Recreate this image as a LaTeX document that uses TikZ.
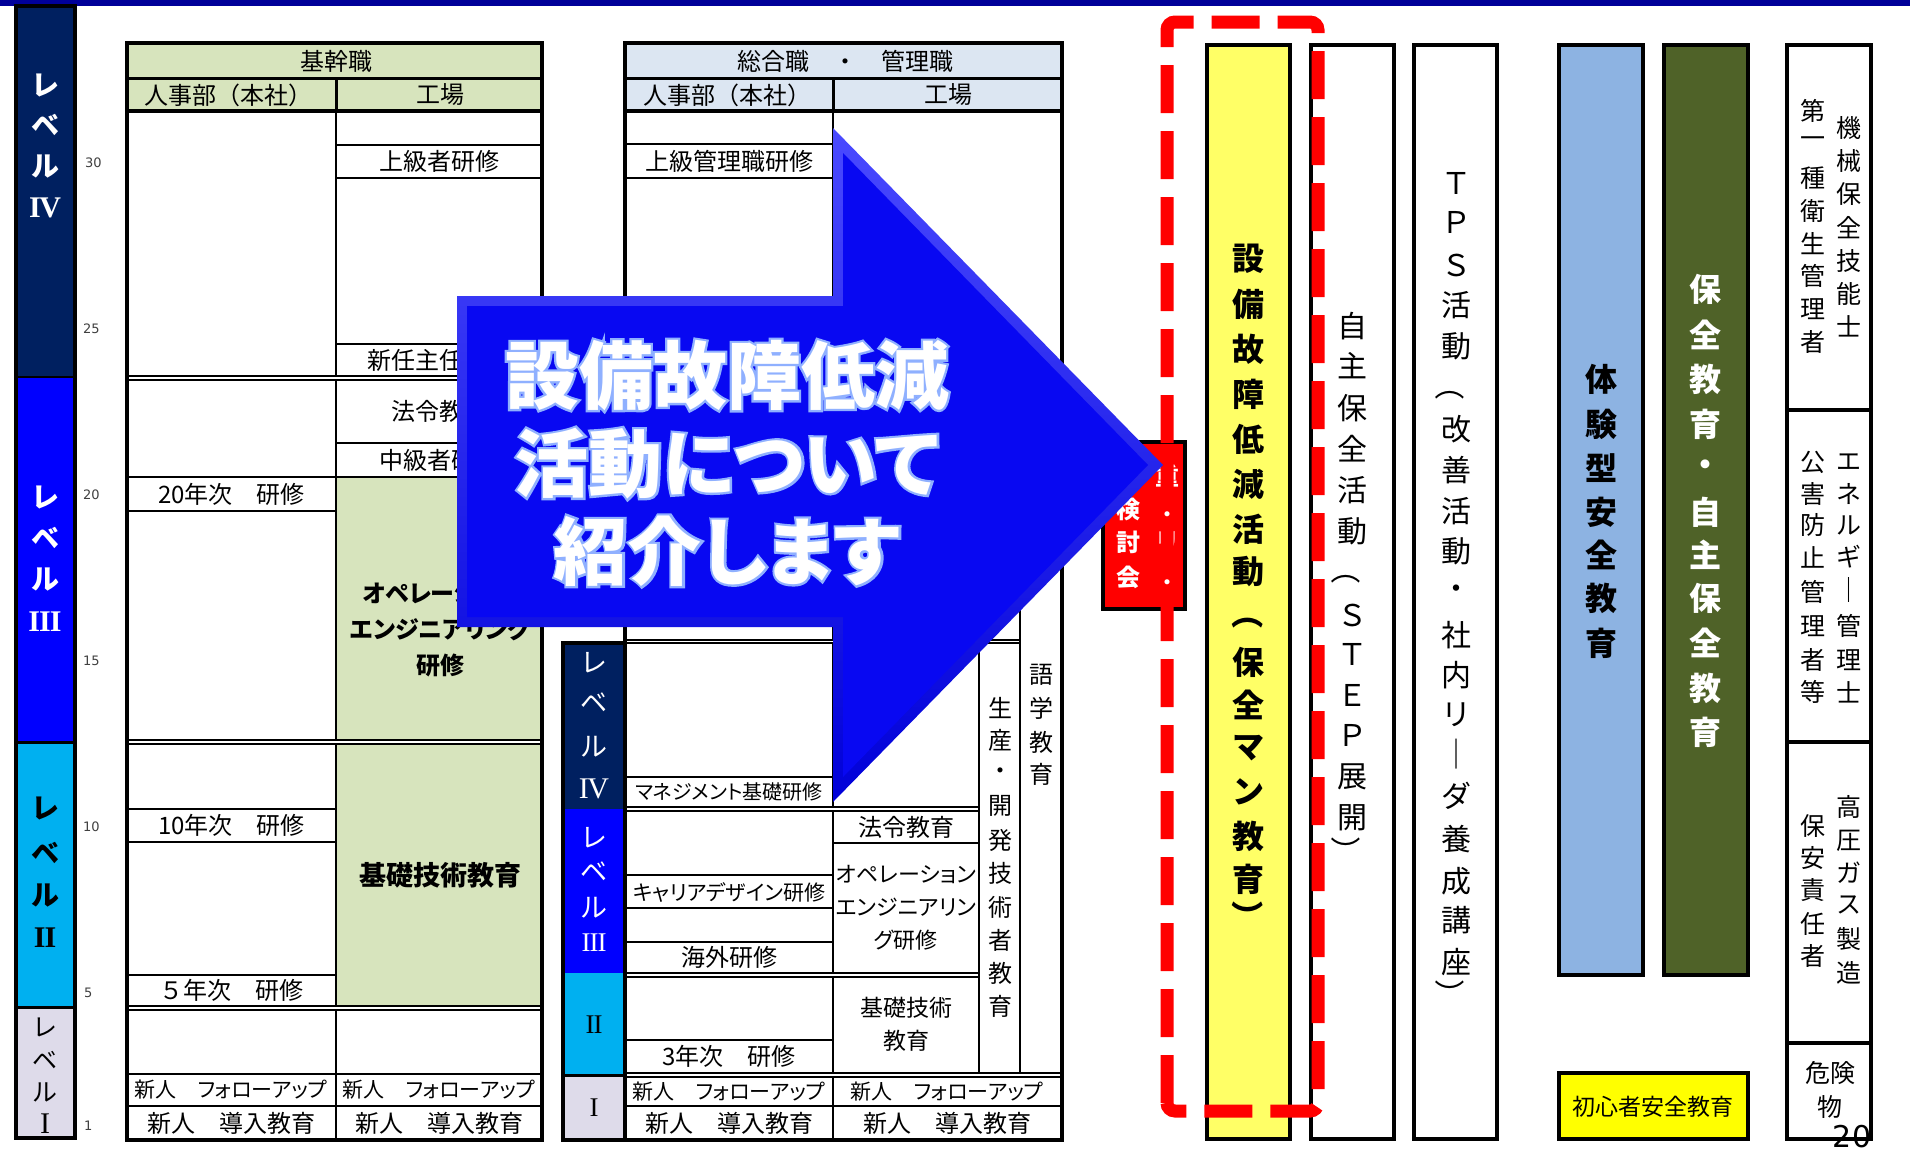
\documentclass[tikz,border=0pt]{standalone}
\usepackage{fontspec}
\setmainfont{Noto Sans CJK JP}
\newfontfamily\pfont[RawFeature=+palt]{Noto Sans CJK JP}
\newfontfamily\glowfont[RawFeature=+palt, BoldFeatures={FakeBold=6}]{Noto Sans CJK JP}
\newfontfamily\numfont{DejaVu Sans}
\newfontfamily\romfont{Liberation Serif}
\definecolor{topbar}{HTML}{000099}
\definecolor{navy}{HTML}{002060}
\definecolor{lvblue}{HTML}{0000FF}
\definecolor{lvcyan}{HTML}{00B0F0}
\definecolor{lvlav}{HTML}{DEDBEA}
\definecolor{hdrgreen}{HTML}{D7E4BD}
\definecolor{hdrblue}{HTML}{DCE6F2}
\definecolor{ylw}{HTML}{FFFF66}
\definecolor{ltblue}{HTML}{8DB3E2}
\definecolor{olive}{HTML}{4F6228}
\definecolor{ylw2}{HTML}{FFFF00}
\definecolor{arrowblue}{HTML}{0808F2}
\definecolor{arrowtop}{HTML}{4A4AFF}
\definecolor{arrowbot}{HTML}{0000D8}
\definecolor{glow}{HTML}{8FB0FF}
\definecolor{redd}{HTML}{FF0000}
\tikzset{
  cl/.style={draw=black, line width=2.5pt},
  txt/.style={inner sep=0pt, align=center, font=\fontsize{24}{33}\selectfont},
  ptxt/.style={inner sep=0pt, align=center, font=\pfont\fontsize{21}{33}\selectfont},
  vch/.style={inner sep=0pt, font=\fontsize{24}{24}\selectfont},
  num/.style={anchor=west, inner sep=0pt, text=black!75, font=\numfont\fontsize{13}{13}\selectfont},
  boxline/.style={draw=black, line width=4pt},
  romb/.style={inner sep=0pt, font=\romfont\bfseries\fontsize{30}{30}\selectfont},
  romn/.style={inner sep=0pt, font=\romfont\fontsize{30}{30}\selectfont},
}
\newcommand\cellbox[7]{%
  \filldraw[cl, fill=#6] (#2,#3) rectangle (#4,#5);
  \node[txt] (#1) at ({(#2+#4)/2},{(#3+#5)/2}) {#7};}
\newcommand\vstack[4][]{%
  \foreach \c/\yy [count=\k] in {#4} {\node[vch,#1] (#2-\k) at (#3,\yy) {\c};}}
% vertical parenthesis: rotated full-width bracket
\newcommand\vparen[5][]{\node[vch,#1,rotate=-90] (#2) at (#3,#4) {\pfont #5};}
\begin{document}
\begin{tikzpicture}[x=1pt,y=-1pt]
\useasboundingbox (0,0) rectangle (1910,1152);
\fill[white] (0,0) rectangle (1910,1152);
\fill[topbar] (0,0) rectangle (1910,6);

% ---------- left level column ----------
\fill[navy] (16,6) rectangle (75,377);
\fill[lvblue] (16,377) rectangle (75,742);
\fill[lvcyan] (16,742) rectangle (75,1007);
\fill[lvlav] (16,1007) rectangle (75,1138);
\draw[line width=2pt] (16,377) -- (75,377);
\draw[line width=3pt] (16,742) -- (75,742);
\draw[line width=3pt] (16,1007) -- (75,1007);
\draw[line width=4pt] (16,6) rectangle (75,1138);
\vstack[text=white,font=\bfseries\fontsize{28}{28}\selectfont]{lvIV}{45}{レ/85,ベ/125,ル/167}
\node[romb, text=white] (lvIVr) at (45,208) {I\kern-1.5pt V};
\vstack[text=white,font=\bfseries\fontsize{28}{28}\selectfont]{lvIII}{45}{レ/497,ベ/538,ル/580}
\node[romb, text=white] (lvIIIr) at (45,622) {I\kern-1pt I\kern-1pt I};
\vstack[font=\bfseries\fontsize{28}{28}\selectfont]{lvII}{45}{レ/808,ベ/853,ル/896}
\node[romb] (lvIIr) at (45,938) {I\kern-1pt I};
\vstack[font=\fontsize{25}{25}\selectfont]{lvI}{45}{レ/1027,ベ/1060,ル/1092}
\node[romn] (lvIr) at (45,1124) {I};

% numbers
\node[num] (n30) at (85,163) {30};
\node[num] (n25) at (83,329) {25};
\node[num] (n20) at (83,495) {20};
\node[num] (n15) at (83,661) {15};
\node[num] (n10) at (83,827) {10};
\node[num] (n5) at (84,993) {5};
\node[num] (n1) at (84,1126) {1};

% ---------- table 1 ----------
\filldraw[fill=hdrgreen, draw=black, line width=3pt] (127,43) rectangle (542,78);
\filldraw[fill=hdrgreen, draw=black, line width=3pt] (127,78) rectangle (336,111);
\filldraw[fill=hdrgreen, draw=black, line width=3pt] (336,78) rectangle (542,111);
\node[txt] (h1) at (336,61) {基幹職};
\node[txt] (h1a) at (228,95) {人事部（本社）};
\node[txt] (h1b) at (440,95) {工場};

\cellbox{t1a}{127}{111}{336}{376}{white}{}
\cellbox{t1b}{127}{380}{336}{477}{white}{}
\cellbox{t1c}{127}{477}{336}{511}{white}{20年次　研修}
\cellbox{t1d}{127}{511}{336}{740}{white}{}
\cellbox{t1e}{127}{744}{336}{809}{white}{}
\cellbox{t1f}{127}{809}{336}{842}{white}{10年次　研修}
\cellbox{t1g}{127}{842}{336}{975}{white}{}
\cellbox{t1h}{127}{975}{336}{1006}{white}{５年次　研修}
\cellbox{t1i}{127}{1010}{336}{1074}{white}{}
\cellbox{t1j}{127}{1074}{336}{1106}{white}{}
\node[ptxt] (t1jt) at (231,1090) {新人　フォローアップ};
\cellbox{t1k}{127}{1106}{336}{1140}{white}{新人　導入教育}

\cellbox{t1ra}{336}{111}{542}{145}{white}{}
\cellbox{t1rb}{336}{145}{542}{178}{white}{上級者研修}
\cellbox{t1rc}{336}{178}{542}{344}{white}{}
\cellbox{t1rd}{336}{344}{542}{376}{white}{新任主任研修}
\cellbox{t1re}{336}{380}{542}{443}{white}{法令教育}
\cellbox{t1rf}{336}{443}{542}{477}{white}{中級者研修}
\cellbox{t1rg}{336}{477}{542}{740}{hdrgreen}{}
\node[txt, font=\pfont\bfseries\fontsize{24}{36}\selectfont] (op1) at (440,630) {オペレーション\\エンジニアリング\\研修};
\cellbox{t1rh}{336}{744}{542}{1006}{hdrgreen}{}
\node[txt, font=\bfseries\fontsize{27}{27}\selectfont] (kiso1) at (440,875) {基礎技術教育};
\cellbox{t1ri}{336}{1010}{542}{1074}{white}{}
\cellbox{t1rj}{336}{1074}{542}{1106}{white}{}
\node[ptxt] (t1rjt) at (439,1090) {新人　フォローアップ};
\cellbox{t1rk}{336}{1106}{542}{1140}{white}{新人　導入教育}
\draw[line width=4pt] (127,43) rectangle (542,1140);
\draw[line width=4pt] (127,111) -- (542,111);

% ---------- table 2 ----------
\filldraw[fill=hdrblue, draw=black, line width=3pt] (625,43) rectangle (1062,78);
\filldraw[fill=hdrblue, draw=black, line width=3pt] (625,78) rectangle (833,111);
\filldraw[fill=hdrblue, draw=black, line width=3pt] (833,78) rectangle (1062,111);
\node[txt] (h2) at (845,61) {総合職　・　管理職};
\node[txt] (h2a) at (727,95) {人事部（本社）};
\node[txt] (h2b) at (948,95) {工場};

\cellbox{t2a}{625}{111}{833}{144}{white}{}
\cellbox{t2b}{625}{144}{833}{178}{white}{上級管理職研修}
\cellbox{t2c}{625}{178}{833}{640}{white}{}
\cellbox{t2up}{833}{111}{1062}{540}{white}{}
\cellbox{t2mid}{833}{540}{1020}{640}{white}{}

\cellbox{t2d}{625}{643}{833}{777}{white}{}
\cellbox{t2e}{625}{777}{833}{807}{white}{}
\node[ptxt, font=\pfont\fontsize{20}{20}\selectfont] (mgmt) at (729,792) {マネジメント基礎研修};
\cellbox{t2f}{625}{811}{833}{875}{white}{}
\cellbox{t2g}{625}{875}{833}{908}{white}{}
\node[ptxt] (career) at (729,892) {キャリアデザイン研修};
\cellbox{t2h}{625}{908}{833}{942}{white}{}
\cellbox{t2i}{625}{942}{833}{973}{white}{海外研修}
\cellbox{t2j}{625}{977}{833}{1040}{white}{}
\cellbox{t2k}{625}{1040}{833}{1073}{white}{3年次　研修}
\cellbox{t2l}{625}{1077}{833}{1106}{white}{}
\node[ptxt] (t2lt) at (729,1092) {新人　フォローアップ};
\cellbox{t2m}{625}{1106}{833}{1140}{white}{新人　導入教育}

\cellbox{t2n}{833}{643}{979}{807}{white}{}
\cellbox{t2o}{833}{811}{979}{843}{white}{法令教育}
\cellbox{t2p}{833}{843}{979}{973}{white}{}
\node[ptxt, font=\pfont\fontsize{22}{33}\selectfont] (op2) at (906,908) {オペレーション\\エンジニアリン\\グ研修};
\cellbox{t2q}{833}{977}{979}{1073}{white}{}
\node[txt, font=\fontsize{23}{33}\selectfont] (kiso2) at (906,1024) {基礎技術\\教育};
\cellbox{t2t}{979}{643}{1020}{1073}{white}{}
\cellbox{t2u}{1020}{540}{1062}{1073}{white}{}
\cellbox{t2r}{833}{1077}{1062}{1106}{white}{}
\node[ptxt] (t2rt) at (947,1092) {新人　フォローアップ};
\cellbox{t2s}{833}{1106}{1062}{1140}{white}{新人　導入教育}
\vstack{seisan}{1000}{生/708,産/740,・/774,開/806,発/840,技/873,術/907,者/940,教/973,育/1006}
\vstack{gogaku}{1041}{語/675,学/708,教/742,育/774}
\draw[line width=4pt] (625,43) rectangle (1062,1140);
\draw[line width=4pt] (625,111) -- (1062,111);

% level column 2
\fill[navy] (563,643) rectangle (625,809);
\fill[lvblue] (563,809) rectangle (625,973);
\fill[lvcyan] (563,973) rectangle (625,1075);
\fill[lvlav] (563,1075) rectangle (625,1140);
\draw[line width=3pt] (563,1075) -- (625,1075);
\draw[line width=4pt] (563,643) rectangle (625,1140);
\vstack[text=white,font=\fontsize{27}{27}\selectfont]{lvbIV}{594}{レ/663,ベ/703,ル/747}
\node[romn, text=white] (lvbIVr) at (594,789) {I\kern-1.5pt V};
\vstack[text=white,font=\fontsize{27}{27}\selectfont]{lvbIII}{594}{レ/838,ベ/872,ル/908}
\node[romn, text=white, font=\romfont\fontsize{27}{27}\selectfont] (lvbIIIr) at (594,943) {I\kern-1pt I\kern-1pt I};
\node[romn, font=\romfont\fontsize{27}{27}\selectfont] (lvbII) at (594,1025) {I\kern-1pt I};
\node[romn, font=\romfont\fontsize{27}{27}\selectfont] (lvbI) at (594,1108) {I};

% ---------- red box ----------
\filldraw[fill=redd, draw=black, line width=3.5pt] (1103,442) rectangle (1185,609);
\vstack[text=white,font=\bfseries\fontsize{24}{24}\selectfont]{rbL}{1128}{点/476,検/509,討/542,会/577}
\vstack[text=white,font=\bfseries\fontsize{24}{24}\selectfont]{rbR}{1167}{重/476,：/509,リ/542,：/577}

% ---------- right boxes ----------
\filldraw[fill=ylw, boxline] (1207,45) rectangle (1290,1139);
\vstack[font=\bfseries\fontsize{32}{32}\selectfont]{setsubi}{1248}{設/259,備/304,故/349,障/394,低/439,減/484,活/529,動/572,保/662,全/705,マ/748,ン/792,教/836,育/879}
\vparen[font=\bfseries\fontsize{32}{32}\selectfont]{setsubiL}{1248}{620}{（}
\vparen[font=\bfseries\fontsize{32}{32}\selectfont]{setsubiR}{1248}{910}{）}
\filldraw[fill=white, boxline] (1311,45) rectangle (1394,1139);
\vstack[font=\fontsize{30}{30}\selectfont]{jishu}{1352}{自/326,主/366,保/408,全/449,活/490,動/531,Ｓ/615,Ｔ/654,Ｅ/695,Ｐ/735,展/777,開/818}
\vparen[font=\fontsize{30}{30}\selectfont]{jishuL}{1346}{576}{（}
\vparen[font=\fontsize{30}{30}\selectfont]{jishuR}{1346}{845}{）}
\filldraw[fill=white, boxline] (1414,45) rectangle (1497,1139);
\vstack[font=\fontsize{30}{30}\selectfont]{tps}{1456}{Ｔ/183,Ｐ/222,Ｓ/265,活/305,動/346,改/429,善/470,活/511,動/551,・/592,社/635,内/675,リ/715,｜/754,ダ/796,養/839,成/881,講/920,座/962}
\vparen[font=\fontsize{30}{30}\selectfont]{tpsL}{1450}{392}{（}
\vparen[font=\fontsize{30}{30}\selectfont]{tpsR}{1450}{988}{）}
\filldraw[fill=ltblue, boxline] (1559,45) rectangle (1643,975);
\vstack[font=\bfseries\fontsize{32}{32}\selectfont]{taiken}{1601}{体/379,験/424,型/468,安/512,全/555,教/598,育/643}
\filldraw[fill=olive, boxline] (1664,45) rectangle (1748,975);
\vstack[text=white,font=\bfseries\fontsize{32}{32}\selectfont]{hozen}{1705}{保/289,全/335,教/379,育/424,・/468,自/512,主/555,保/598,全/643,教/688,育/732}
\filldraw[fill=ylw2, boxline] (1559,1073) rectangle (1748,1139);
\node[txt, font=\fontsize{23}{23}\selectfont] (shoshin) at (1653,1107) {初心者安全教育};

\filldraw[fill=white, boxline] (1787,45) rectangle (1871,1139);
\draw[line width=4pt] (1787,410) -- (1871,410);
\draw[line width=4pt] (1787,742) -- (1871,742);
\draw[line width=4pt] (1787,1043) -- (1871,1043);
\vstack[font=\fontsize{25}{25}\selectfont]{kikai}{1849}{機/128,械/161,保/194,全/228,技/261,能/294,士/326}
\vstack[font=\fontsize{25}{25}\selectfont]{eisei}{1813}{第/111,一/142,種/178,衛/211,生/244,管/276,理/309,者/342}
\vstack[font=\fontsize{25}{25}\selectfont]{energy}{1849}{エ/462,ネ/494,ル/525,ギ/557,｜/590,管/626,理/660,士/692}
\vstack[font=\fontsize{25}{25}\selectfont]{kogai}{1813}{公/462,害/494,防/525,止/557,管/592,理/626,者/660,等/692}
\vstack[font=\fontsize{25}{25}\selectfont]{koatsu}{1849}{高/807,圧/841,ガ/873,ス/905,製/939,造/973}
\vstack[font=\fontsize{25}{25}\selectfont]{hoan}{1813}{保/826,安/858,責/890,任/924,者/956}
\node[txt, font=\fontsize{25}{34}\selectfont] (kiken) at (1830,1090) {危険\\物};

% ---------- red dashed frame ----------
\draw[redd, line width=13pt, dash pattern=on 48pt off 18pt, rounded corners=8pt]
  (1167,1111) -- (1167,22) -- (1318,22) -- (1318,1111) -- cycle;

% ---------- big arrow ----------
\shade[top color=arrowtop, bottom color=arrowbot]
  (457,296) -- (833,296) -- (833,128) -- (1163,465) -- (833,802) -- (833,627) -- (457,627) -- cycle;
\fill[arrowblue]
  (467,306) -- (843,306) -- (843,153) -- (1148,465) -- (843,777) -- (843,617) -- (467,617) -- cycle;
\node[inner sep=0pt, align=center, text=glow, font=\glowfont\bfseries\fontsize{74}{88}\selectfont] (titleglow) at (727,463)
  {設備故障低減\\活動について\\紹介します};
\node[inner sep=0pt, align=center, text=white, font=\pfont\bfseries\fontsize{74}{88}\selectfont] (title) at (727,463)
  {設備故障低減\\活動について\\紹介します};

% page number
\node[anchor=base, inner sep=0pt, font=\numfont\fontsize{30}{30}\selectfont] (pg) at (1852,1147) {20};
\end{tikzpicture}
\end{document}
